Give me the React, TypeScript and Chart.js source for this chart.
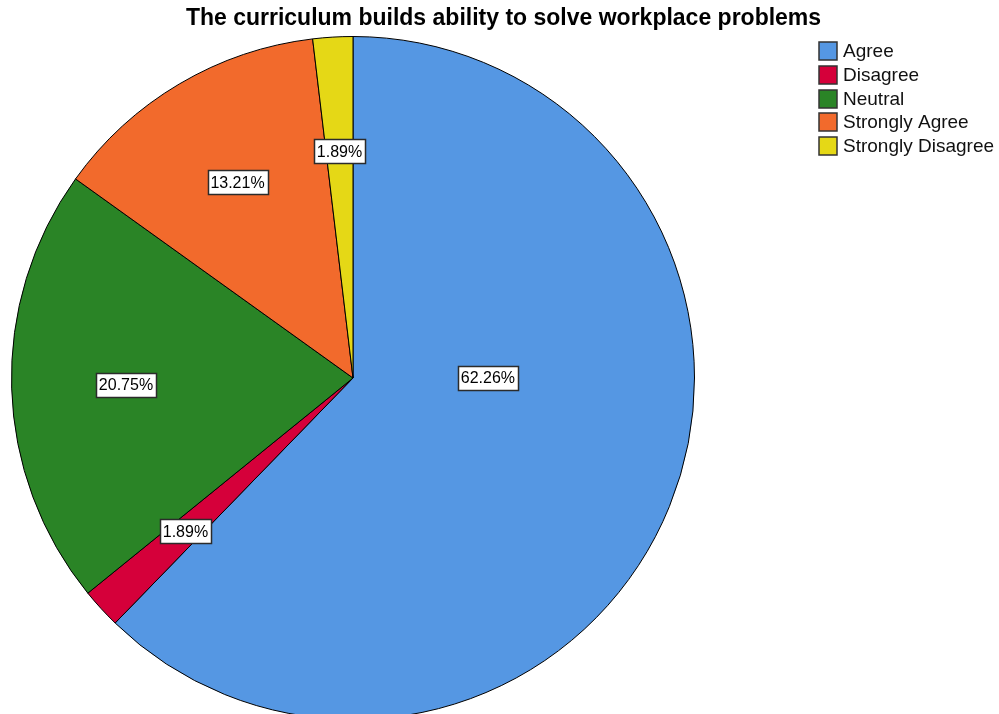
import React, { useEffect, useRef } from "react";
import { Chart, registerables } from "chart.js";

Chart.register(...registerables);

const TITLE = "The curriculum builds ability to solve workplace problems";
const categories = ["Agree", "Disagree", "Neutral", "Strongly Agree", "Strongly Disagree"];
const counts = [33, 1, 11, 7, 1];
const sliceColors = ["#5597E3", "#D5003A", "#2A8426", "#F26A2C", "#E5D816"];

const FONT = "'Liberation Sans', Arial, sans-serif";

const annotatePlugin = {
  id: "spssAnnotations",
  afterDatasetsDraw(chart: any) {
    const ctx = chart.ctx as CanvasRenderingContext2D;
    const meta = chart.getDatasetMeta(0);
    const data = chart.data.datasets[0].data as number[];
    const total = data.reduce((a, b) => a + b, 0);
    ctx.save();
    ctx.font = `16px ${FONT}`;
    ctx.textAlign = "center";
    ctx.textBaseline = "middle";
    meta.data.forEach((arc: any, i: number) => {
      const p = arc.getProps(["x", "y", "startAngle", "endAngle", "outerRadius"], true);
      let mid = (p.startAngle + p.endAngle) / 2;
      let rf = 0.665;
      if (p.endAngle - p.startAngle > Math.PI) {
        mid = 0.0;
        rf = 0.395;
      }
      const lx = p.x + Math.cos(mid) * p.outerRadius * rf;
      const ly = p.y + Math.sin(mid) * p.outerRadius * rf;
      const txt = ((data[i] / total) * 100).toFixed(2) + "%";
      const w = Math.round(ctx.measureText(txt).width + 6);
      const h = 24;
      const bx = Math.round(lx - w / 2) + 0.5;
      const by = Math.round(ly - h / 2) + 0.5;
      ctx.fillStyle = "#ffffff";
      ctx.fillRect(bx, by, w, h);
      ctx.strokeStyle = "#2b2b2b";
      ctx.lineWidth = 1.5;
      ctx.strokeRect(bx, by, w, h);
      ctx.fillStyle = "#000000";
      ctx.fillText(txt, lx, ly + 1);
    });
    ctx.restore();
  },
  afterDraw(chart: any) {
    const ctx = chart.ctx as CanvasRenderingContext2D;
    ctx.save();
    // title
    ctx.font = `bold 23px ${FONT}`;
    ctx.fillStyle = "#000000";
    ctx.textAlign = "center";
    ctx.textBaseline = "middle";
    ctx.fillText(TITLE, 503.5, 19);
    // legend
    const labels = chart.data.labels as string[];
    const colors = chart.data.datasets[0].backgroundColor as string[];
    ctx.font = `19px ${FONT}`;
    ctx.textAlign = "left";
    labels.forEach((lab, i) => {
      const top = Math.round(42 + i * 23.8);
      ctx.fillStyle = colors[i];
      ctx.fillRect(819, top, 18, 18);
      ctx.strokeStyle = "#333333";
      ctx.lineWidth = 1.5;
      ctx.strokeRect(819, top, 18, 18);
      ctx.fillStyle = "#111111";
      ctx.fillText(lab, 843, top + 10);
    });
    ctx.restore();
  },
};

export default function App() {
  const ref = useRef<HTMLCanvasElement | null>(null);
  useEffect(() => {
    if (!ref.current) return;
    const chart = new Chart(ref.current, {
      type: "pie",
      data: {
        labels: categories,
        datasets: [
          {
            data: counts,
            backgroundColor: sliceColors,
            borderColor: "#000000",
            borderWidth: 1,
          },
        ],
      },
      options: {
        responsive: false,
        maintainAspectRatio: false,
        animation: false,
        devicePixelRatio: 1,
        layout: { padding: { left: 11, right: 304, top: 36, bottom: 10 } },
        plugins: {
          legend: { display: false },
          title: { display: false },
          tooltip: { enabled: false },
        },
      },
      plugins: [annotatePlugin],
    });
    return () => chart.destroy();
  }, []);
  return (
    <div
      style={{
        position: "fixed",
        left: 0,
        top: 0,
        width: 999,
        height: 714,
        overflow: "hidden",
        background: "#ffffff",
      }}
    >
      <canvas ref={ref} width={999} height={730} style={{ display: "block" }} />
    </div>
  );
}
